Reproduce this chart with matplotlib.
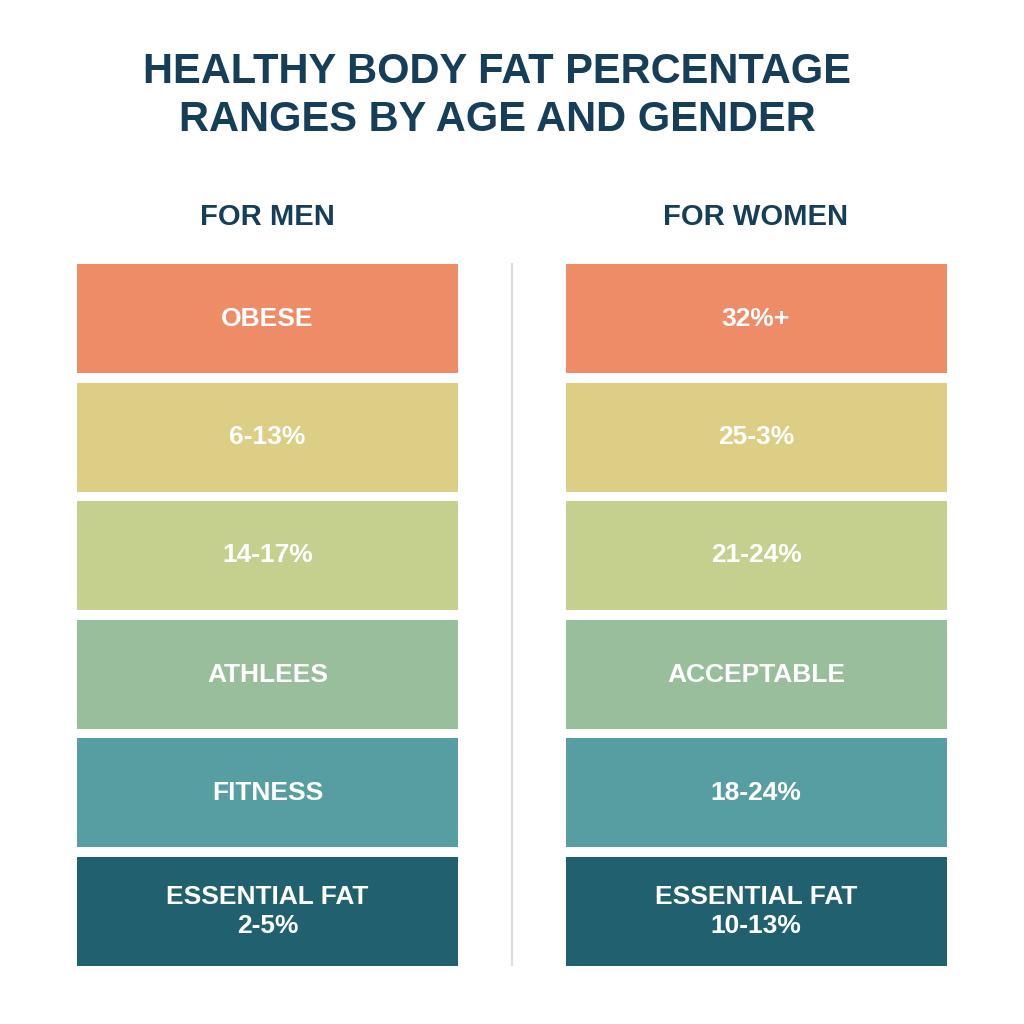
"""Healthy body fat percentage ranges chart."""

import matplotlib

matplotlib.use("Agg")
from matplotlib import pyplot as plt

TITLE = "HEALTHY BODY FAT PERCENTAGE\nRANGES BY AGE AND GENDER"
GROUPS = ["FOR MEN", "FOR WOMEN"]
MEN_LABELS = ["OBESE", "6-13%", "14-17%", "ATHLEES", "FITNESS", "ESSENTIAL FAT\n2-5%"]
WOMEN_LABELS = ["32%+", "25-3%", "21-24%", "ACCEPTABLE", "18-24%", "ESSENTIAL FAT\n10-13%"]
ROW_COLORS = ["#EE8C68", "#DDCE85", "#C5D08F", "#98BE9C", "#579EA3", "#21606F"]

NAVY = "#163E58"
FONT = "Liberation Sans"

fig = plt.figure(figsize=(10.24, 10.24), dpi=100)
ax = fig.add_axes([0, 0, 1, 1])
ax.set_xlim(0, 1024)
ax.set_ylim(1024, 0)
ax.axis("off")

col_centers = [267.5, 756]
col_width = 381
row_tops = [264, 383, 501, 620, 738, 857]
row_height = 109

for cx, group, labels in zip(col_centers, GROUPS, [MEN_LABELS, WOMEN_LABELS]):
    ax.bar([cx] * len(labels), [row_height] * len(labels), width=col_width,
           bottom=row_tops, color=ROW_COLORS)
    for top, label in zip(row_tops, labels):
        ax.text(cx, top + row_height / 2, label, ha="center", va="center",
                color="white", fontsize=19, fontweight="bold", family=FONT,
                linespacing=1.3)
    ax.text(cx, 217, group, ha="center", va="center", color=NAVY,
            fontsize=21, fontweight="bold", family=FONT)

ax.plot([512, 512], [264, 965], color="#DDDDDD", linewidth=1.5)
ax.text(497, 96, TITLE, ha="center", va="center", color=NAVY, fontsize=30,
        fontweight="bold", family=FONT, linespacing=1.25)

fig.savefig("out.png")
